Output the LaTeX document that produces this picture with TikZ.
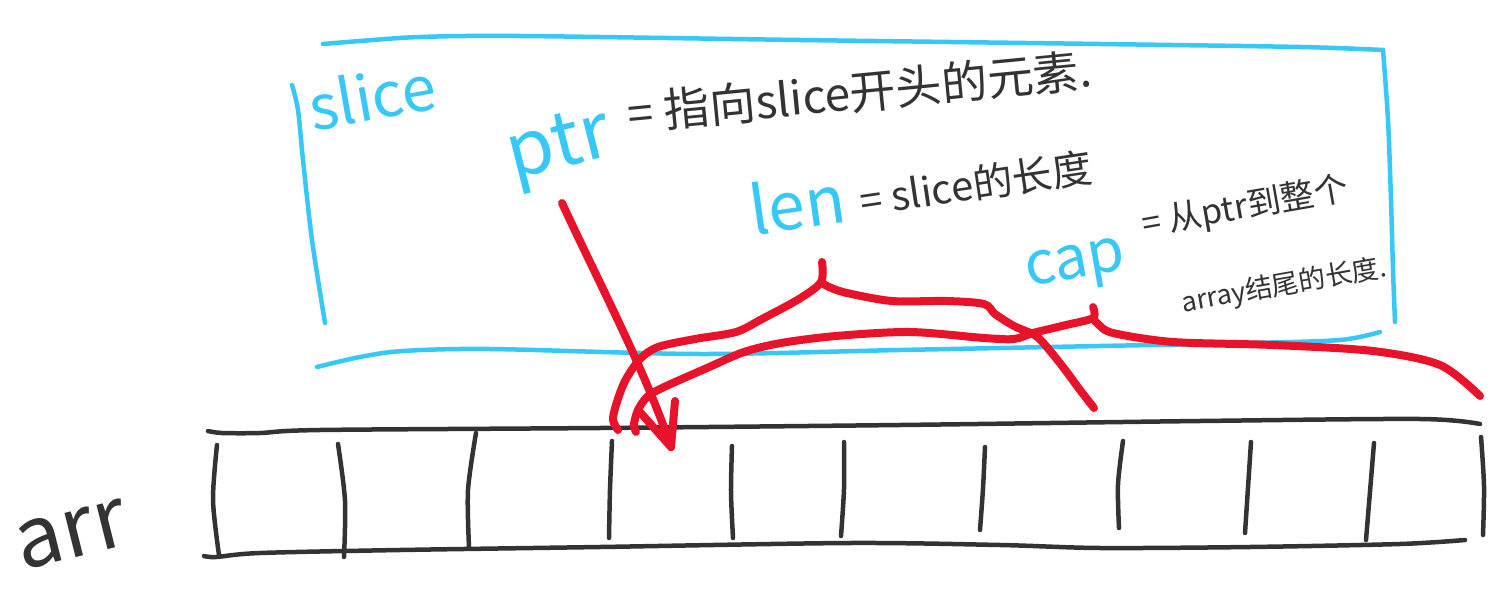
\documentclass[tikz,border=0pt]{standalone}
\usepackage{fontspec}
\setmainfont{Noto Sans CJK SC}
\definecolor{skyb}{HTML}{38C8F8}
\definecolor{pen}{HTML}{E8132A}
\definecolor{ink}{HTML}{333333}
\tikzset{
 bluepen/.style={draw=skyb, line width=4.5pt, line cap=round, line join=round},
 redpen/.style={draw=pen, line width=8pt, line cap=round, line join=round},
 inkpen/.style={draw=ink, line width=4.5pt, line cap=round, line join=round},
 bluelabel/.style={text=skyb, inner sep=0pt},
 inklabel/.style={text=ink, inner sep=0pt},
}
\begin{document}
\begin{tikzpicture}[x=1pt,y=-1pt]
\useasboundingbox[fill=white] (0,0) rectangle (1502,591);

% ---------- slice box (blue) ----------
\draw[bluepen] plot[smooth] coordinates {(323,44) (360,41) (420,37) (520,36) (800,40) (1100,44) (1300,47) (1383,50)};
\draw[bluepen] plot[smooth] coordinates {(1383,50) (1388,120) (1391,200) (1393,270) (1395,322)};
\draw[bluepen] plot[smooth] coordinates {(292,85) (298,110) (303,160) (312,240) (325,323)};
\draw[bluepen] plot[smooth] coordinates {(317,367) (360,357) (403,351) (490,349) (700,354) (900,350) (1100,346) (1250,343) (1340,340) (1380,332)};

% ---------- labels ----------
\node[bluelabel, font=\fontsize{62}{66}\selectfont, rotate=10] (slicelbl) at (372,96) {slice};
\node[bluelabel, font=\fontsize{76}{80}\selectfont, rotate=14] (ptrlbl) at (560,150) {ptr};
\node[bluelabel, font=\fontsize{66}{70}\selectfont, rotate=8] (lenlbl) at (797,203) {len};
\node[bluelabel, font=\fontsize{60}{64}\selectfont, rotate=10] (caplbl) at (1076,268) {cap};

\node[inklabel, font=\fontsize{46}{50}\selectfont, rotate=5.5, anchor=west] (ptrtxt) at (628,114) {= 指向slice开头的元素.};
\node[inklabel, font=\fontsize{40}{44}\selectfont, rotate=8.5, anchor=west] (lentxt) at (860,201) {= slice的长度};
\node[inklabel, font=\fontsize{34}{38}\selectfont, rotate=10, anchor=west] (captxt) at (1142,226) {= 从ptr到整个};
\node[inklabel, font=\fontsize{27}{30}\selectfont, rotate=10, anchor=west] (captxtb) at (1182,304) {array结尾的长度.};

\node[inklabel, font=\fontsize{84}{88}\selectfont, rotate=14] (arrlbl) at (72,535) {arr};

% ---------- array ----------
\draw[inkpen] plot[smooth] coordinates {(208,431) (222,433) (260,433) (320,430) (600,428) (900,425) (1200,421) (1420,419) (1480,424)};
\draw[inkpen] plot[smooth] coordinates {(204,556) (216,557) (260,553) (400,550) (600,547) (850,543) (1000,545) (1100,548) (1250,547) (1400,544) (1465,540)};
\foreach \xa/\ya/\xb/\yb/\xm in {
  217/445/219/555/213, 338/444/344/557/345, 476/433/469/547/468,
  612/441/609/538/610, 732/446/733/538/731, 844/442/841/536/844,
  985/447/980/530/983, 1123/441/1119/528/1118, 1251/442/1245/533/1248,
  1374/443/1366/540/1370, 1481/437/1483/535/1484} {
  \draw[inkpen] plot[smooth] coordinates {(\xa,\ya) (\xm,{(\ya+\yb)/2}) (\xb,\yb)};
}

% ---------- red pointer arrow ----------
\coordinate (ptrtail) at (562,203);
\coordinate (ptrtip) at (671,447);
\coordinate (barbL) at (639,411);
\coordinate (barbR) at (675,401);
\draw[redpen] (ptrtail) .. controls (600,285) and (645,370) .. (ptrtip);
\draw[redpen] (barbL) -- (ptrtip) -- (barbR);

% ---------- len brace ----------
\coordinate (lentop) at (822,262);
\draw[redpen] plot[smooth] coordinates {(lentop) (821,282) (799,299) (762,319) (736,332) (695,339) (658,347) (640,359) (625,381) (616,405) (613,420) (618,430)};
\draw[redpen] plot[smooth] coordinates {(821,282) (829,287) (847,293) (892,301) (947,301) (984,304) (995,314) (1014,326) (1036,336) (1051,352) (1066,371) (1080,390) (1094,408)};

% ---------- cap brace ----------
\coordinate (captop) at (1093,307);
\draw[redpen] plot[smooth] coordinates {(captop) (1093,318) (1066,325) (1033,333) (1014,339) (984,338) (910,332) (836,336) (781,343) (744,352) (707,368) (662,388) (647,397) (638,410) (634,424) (636,432)};
\draw[redpen] plot[smooth] coordinates {(1093,318) (1098,324) (1113,333) (1173,342) (1273,345) (1373,351) (1440,365) (1480,396)};
\end{tikzpicture}
\end{document}
